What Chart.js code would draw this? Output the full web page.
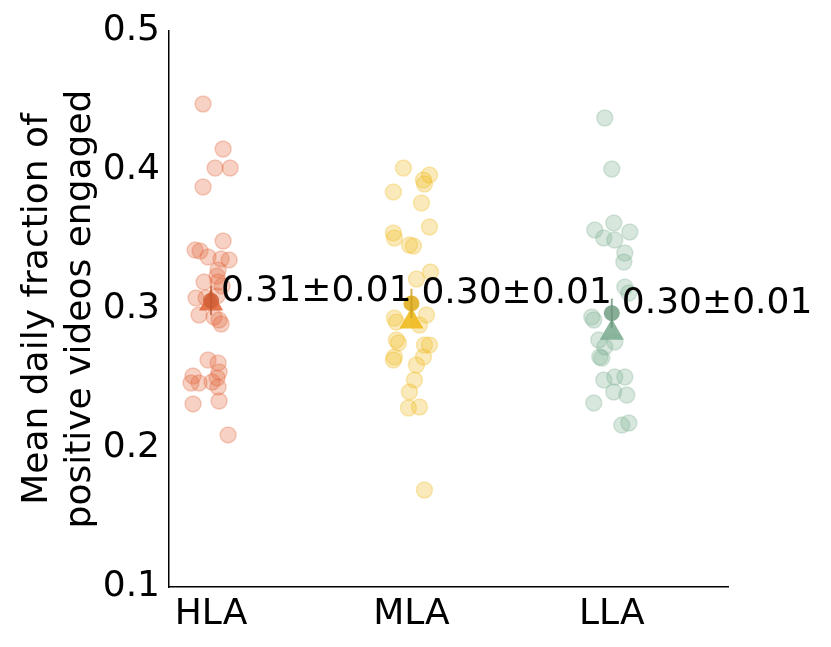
<!DOCTYPE html>
<html><head><meta charset="utf-8">
<script src="https://cdn.jsdelivr.net/npm/chart.js@4"></script>
<style>html,body{margin:0;padding:0;background:#fff}#wrap{width:831px;height:647px}</style>
</head><body><div id="wrap"><canvas id="c" width="831" height="647"></canvas></div>
<script>
const categories = ['HLA', 'MLA', 'LLA'];
const yTicks = [0.1, 0.2, 0.3, 0.4, 0.5];

const hlaValues = [0.4475, 0.4151, 0.4014, 0.4014, 0.3878, 0.3489, 0.3424, 0.3417, 0.3374, 0.3360,
  0.3353, 0.3281, 0.3237, 0.3194, 0.3194, 0.3165, 0.3079, 0.3079, 0.3094, 0.2957,
  0.2942, 0.2921, 0.2892, 0.2633, 0.2612, 0.2547, 0.2518, 0.2468, 0.2468, 0.2475,
  0.2504, 0.2439, 0.2317, 0.2338, 0.2094];
const hlaJitter = [-0.04, 0.06, 0.02, 0.095, -0.04, 0.06, -0.08, -0.055, -0.015, 0.05,
  0.09, 0.035, 0.03, -0.035, 0.035, 0.055, -0.075, -0.025, 0.03, -0.06,
  0.015, 0.04, 0.05, -0.015, 0.035, 0.04, -0.09, -0.1, -0.06, 0.005,
  0.03, 0.035, -0.09, 0.04, 0.085];

const mlaValues = [0.4014, 0.3964, 0.3928, 0.3899, 0.3842, 0.3763, 0.3590, 0.3547, 0.3511, 0.3460,
  0.3453, 0.3266, 0.3216, 0.2935, 0.2906, 0.2957, 0.2885, 0.2777, 0.2755, 0.2655,
  0.2633, 0.2741, 0.2741, 0.2655, 0.2597, 0.2489, 0.2403, 0.2288, 0.2295, 0.1698];
const mlaJitter = [-0.04, 0.09, 0.06, 0.065, -0.09, 0.05, 0.09, -0.09, -0.085, -0.01,
  0.01, 0.095, 0.025, -0.085, -0.075, 0.075, 0.04, -0.075, -0.065, -0.085,
  -0.09, 0.09, 0.065, 0.06, 0.025, 0.015, -0.01, -0.015, 0.04, 0.065];

const llaValues = [0.4374, 0.4007, 0.3619, 0.3568, 0.3554, 0.3511, 0.3496, 0.3403, 0.3338, 0.3158,
  0.3115, 0.2942, 0.2921, 0.2777, 0.2727, 0.2763, 0.2655, 0.2647, 0.2489, 0.2511,
  0.2511, 0.2403, 0.2381, 0.2324, 0.2165, 0.2180];
const llaJitter = [-0.035, 0, 0.01, -0.085, 0.09, -0.04, 0.015, 0.065, 0.06, 0.065,
  0.085, -0.1, -0.09, -0.065, -0.035, 0.015, -0.06, -0.05, -0.04, 0.015,
  0.065, 0.01, 0.075, -0.09, 0.05, 0.085];

const groupMeans = [0.306, 0.304, 0.297];
const groupMedians = [0.304, 0.291, 0.283];
const groupSems = [0.0105, 0.0105, 0.0105];

const groupColors = [[226, 104, 60], [240, 186, 30], [127, 174, 147]];
const rgba = (c, a) => `rgba(${c[0]},${c[1]},${c[2]},${a})`;

const groups = [hlaValues, mlaValues, llaValues];
const jitters = [hlaJitter, mlaJitter, llaJitter];

const datasets = [];
groups.forEach((vals, gi) => {
  datasets.push({
    label: categories[gi],
    data: vals.map((v, k) => ({ x: gi + jitters[gi][k], y: v })),
    backgroundColor: rgba(groupColors[gi], 0.3),
    borderColor: rgba(groupColors[gi], 0.3),
    borderWidth: 1.5,
    pointRadius: 8,
    order: 10
  });
});
groupMedians.forEach((m, gi) => {
  datasets.push({
    label: categories[gi] + ' median',
    data: [{ x: gi, y: m }],
    pointStyle: 'triangle',
    backgroundColor: rgba(groupColors[gi], 0.9),
    borderColor: rgba(groupColors[gi], 0.9),
    borderWidth: 0,
    pointRadius: 14,
    order: 5
  });
});
groupMeans.forEach((m, gi) => {
  datasets.push({
    label: categories[gi] + ' mean',
    data: [{ x: gi, y: m }],
    backgroundColor: rgba(groupColors[gi].map(c => Math.round(c * 0.93)), 0.88),
    borderColor: rgba(groupColors[gi].map(c => Math.round(c * 0.93)), 0.88),
    borderWidth: 0,
    pointRadius: 8,
    order: 1
  });
});

const overlay = {
  id: 'overlay',
  afterDatasetsDraw(chart) {
    const { ctx, scales: { x, y } } = chart;
    ctx.save();
    groupMeans.forEach((m, gi) => {
      const px = x.getPixelForValue(gi);
      ctx.strokeStyle = rgba(groupColors[gi].map(c => Math.round(c * 0.85)), 0.8);
      ctx.lineWidth = 2;
      ctx.beginPath();
      ctx.moveTo(px, y.getPixelForValue(m + groupSems[gi]));
      ctx.lineTo(px, y.getPixelForValue(m - groupSems[gi]));
      ctx.stroke();
    });
    ctx.font = '36px "DejaVu Sans"';
    ctx.fillStyle = '#000';
    ctx.textAlign = 'left';
    ctx.textBaseline = 'alphabetic';
    groupMeans.forEach((m, gi) => {
      const txt = m.toFixed(2) + '\u00B1' + groupSems[gi].toFixed(2);
      ctx.fillText(txt, x.getPixelForValue(gi + 0.05), y.getPixelForValue(m));
    });
    ctx.restore();
  }
};

Chart.defaults.font.family = '"DejaVu Sans"';
Chart.defaults.color = '#000';

new Chart(document.getElementById('c'), {
  type: 'scatter',
  data: { datasets },
  options: {
    responsive: false,
    devicePixelRatio: 1,
    animation: false,
    events: [],
    layout: { padding: { left: 0, top: 31, right: 103, bottom: 0 } },
    plugins: { legend: { display: false }, tooltip: { enabled: false } },
    scales: {
      x: {
        type: 'linear',
        min: -0.21,
        max: 2.58,
        grid: { display: false, drawTicks: false },
        border: { display: true, color: '#000', width: 1.5 },
        afterBuildTicks: s => { s.ticks = categories.map((c, i) => ({ value: i })); },
        afterFit: s => { s.height = 60; },
        ticks: {
          padding: 6,
          font: { size: 36 },
          color: '#000',
          maxRotation: 0,
          autoSkip: false,
          callback: v => categories[Math.round(v)]
        }
      },
      y: {
        type: 'linear',
        min: 0.1,
        max: 0.5,
        grid: { display: false, drawTicks: false },
        border: { display: true, color: '#000', width: 1.5 },
        afterBuildTicks: s => { s.ticks = yTicks.map(v => ({ value: v })); },
        afterFit: s => { s.width = 169; },
        ticks: {
          padding: 9,
          font: { size: 36 },
          color: '#000',
          callback: v => v.toFixed(1)
        },
        title: {
          display: true,
          text: ['Mean daily fraction of', 'positive videos engaged'],
          font: { size: 36 },
          color: '#000',
          padding: { top: 16, bottom: 0 }
        }
      }
    }
  },
  plugins: [overlay]
});
</script></body></html>
